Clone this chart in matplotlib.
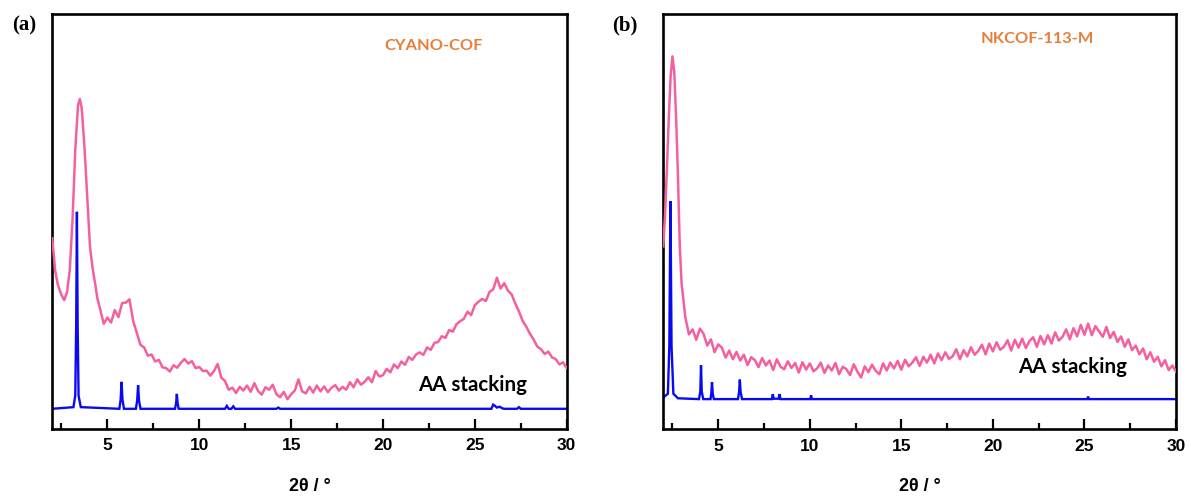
import numpy as np
import matplotlib
matplotlib.use("Agg")
import matplotlib.pyplot as plt

# ---------------- data (arbitrary intensity units, 0-100 axis) ----------------
# Panel (a) CYANO-COF experimental: low-angle peak region (explicit x)
exp_a_peak_x = [2.0, 2.15, 2.3, 2.5, 2.65, 2.8, 2.95, 3.1, 3.25, 3.4, 3.5, 3.6,
                3.75, 3.9, 4.05, 4.2, 4.35, 4.45]
exp_a_peak_y = [45.9, 38.3, 34.7, 32.2, 31.0, 32.9, 38.2, 50.3, 67.2, 78.0, 79.5, 77.3,
                68.0, 56.0, 44.0, 38.5, 34.5, 31.5]
# remaining pattern, read every 0.2 deg from 4.6 to 30.0
exp_a_tail_x = [round(v, 2) for v in np.arange(4.6, 30.001, 0.2)]
exp_a_tail_y = [28.9, 25.3,
                26.8, 25.6, 28.6, 26.9, 30.3,
                30.4, 31.2, 26.0, 23.1, 20.2,
                19.6, 17.6, 17.9, 16.2, 16.6,
                14.8, 14.6, 13.8, 15.3, 14.7,
                15.9, 16.8, 15.7, 16.3, 14.6,
                14.9, 13.9, 14.0, 12.8, 13.9,
                15.6, 12.3, 11.5, 9.4, 9.9,
                8.6, 10.1, 9.2, 10.4, 8.9,
                11.0, 9.1, 8.2, 10.0, 9.4,
                10.6, 8.3, 7.6, 8.9, 7.1,
                8.3, 9.2, 11.9, 9.0, 8.5,
                10.1, 8.7, 10.4, 9.0, 10.2,
                8.8, 9.9, 10.5, 9.2, 10.1,
                9.4, 11.2, 10.0, 11.9, 10.6,
                11.3, 12.4, 11.2, 13.9, 12.6,
                12.9, 14.4, 13.6, 15.5, 14.6,
                16.2, 15.4, 17.3, 16.6, 17.9,
                18.4, 17.8, 19.6, 19.0, 20.7,
                20.9, 22.3, 21.9, 23.8, 23.4,
                25.2, 25.9, 26.5, 28.2, 27.4,
                29.8, 30.6, 31.3, 30.8, 33.0,
                33.6, 36.4, 33.8, 35.1, 33.3,
                32.4, 30.2, 28.3, 26.0, 24.6,
                22.9, 21.5, 19.8, 19.2, 18.0,
                18.6, 17.2, 16.8, 15.5, 16.0,
                14.6]
exp_a_x = exp_a_peak_x + exp_a_tail_x
exp_a_y = exp_a_peak_y + exp_a_tail_y

# Panel (a) simulated AA stacking
sim_a_x = [2.0, 3.15, 3.25, 3.30, 3.34, 3.38, 3.43, 3.55, 5.65, 5.72, 5.77, 5.82, 5.9,
           6.55, 6.62, 6.67, 6.72, 6.8, 8.68, 8.74, 8.78, 8.82, 8.88, 11.4, 11.5, 11.6,
           11.75, 11.85, 11.95, 14.2, 14.3, 14.4, 25.9, 26.0, 26.1, 26.2, 26.35, 26.5,
           26.6, 27.3, 27.4, 27.5, 30.0]
sim_a_y = [4.8, 5.2, 8.0, 25.0, 52.3, 25.0, 8.0, 5.2, 4.8, 7.0, 11.3, 7.0, 4.8,
           4.8, 6.8, 10.5, 6.8, 4.8, 4.8, 6.2, 8.4, 6.2, 4.8, 4.8, 5.5, 4.8,
           4.8, 5.4, 4.8, 4.8, 5.1, 4.8, 4.8, 5.8, 5.5, 5.1, 5.3, 4.9,
           4.8, 4.8, 5.2, 4.8, 4.8]

# Panel (b) NKCOF-113-M experimental
exp_b_peak_x = [2.0, 2.1, 2.2, 2.3, 2.4, 2.5, 2.6, 2.7, 2.8, 2.9]
exp_b_peak_y = [44.0, 52.0, 63.0, 75.0, 85.0, 89.8, 86.0, 75.0, 61.0, 44.0]
exp_b_tail_x = [round(v, 2) for v in np.arange(3.0, 30.001, 0.2)]
exp_b_tail_y = [35.0, 27.0, 22.8, 24.0, 21.5,
                24.2, 22.9, 20.1, 21.6, 18.5,
                20.4, 19.6, 17.2, 18.9, 16.8,
                18.6, 16.5, 17.9, 15.4, 17.3,
                16.6, 14.9, 17.1, 15.3, 16.5,
                14.2, 16.8, 15.0, 14.4, 16.3,
                14.7, 15.9, 13.6, 16.1, 14.3,
                15.8, 13.9, 14.6, 16.0, 13.5,
                15.3, 14.1, 15.9, 13.2, 15.0,
                14.4, 13.0, 15.6, 13.8, 12.4,
                15.1, 13.7, 15.5, 14.0, 13.2,
                15.8, 14.1, 16.0, 14.6, 16.4,
                14.3, 16.7, 15.1, 16.0, 17.3,
                15.2, 17.4, 16.0, 17.9, 15.8,
                18.2, 16.6, 18.5, 16.9, 17.5,
                19.2, 16.8, 19.0, 17.5, 19.7,
                17.9, 18.8, 20.3, 18.0, 20.6,
                18.7, 20.9, 19.1, 19.8, 21.4,
                18.9, 21.5, 19.6, 21.8, 19.5,
                21.2, 22.1, 19.8, 22.4, 20.4,
                22.6, 20.6, 23.3, 21.3, 22.2,
                24.0, 21.6, 24.3, 22.3, 25.1,
                22.7, 25.4, 22.6, 24.8, 23.5,
                22.2, 24.6, 21.9, 23.4, 21.0,
                22.3, 19.8, 21.6, 19.0, 20.1,
                18.0, 19.4, 16.8, 18.5, 16.2,
                17.4, 15.1, 16.6, 14.2, 15.3,
                13.8]
exp_b_x = exp_b_peak_x + exp_b_tail_x
exp_b_y = exp_b_peak_y + exp_b_tail_y

# Panel (b) simulated AA stacking
sim_b_x = [2.0, 2.25, 2.33, 2.39, 2.45, 2.55, 2.8, 3.95, 4.02, 4.06, 4.1, 4.18,
           4.58, 4.62, 4.66, 4.70, 4.76, 6.08, 6.14, 6.18, 6.22, 6.3, 7.93, 7.98,
           8.03, 8.30, 8.35, 8.4, 10.02, 10.07, 10.12, 25.15, 25.2, 25.25, 30.0]
sim_b_y = [7.6, 8.5, 20.0, 54.9, 20.0, 8.5, 7.4, 7.2, 9.0, 15.3, 9.0, 7.2,
           7.2, 8.5, 11.3, 8.5, 7.2, 7.2, 9.0, 11.9, 9.0, 7.2, 7.2, 8.4,
           7.3, 7.3, 8.4, 7.2, 7.2, 8.1, 7.2, 7.2, 7.8, 7.2, 7.2]

xticks_major = [5, 10, 15, 20, 25, 30]
xticks_minor = [2.5, 7.5, 12.5, 17.5, 22.5, 27.5]
sample_names = ["CYANO-COF", "NKCOF-113-M"]
panel_tags = ["(a)", "(b)"]
sim_label = "AA stacking"
x_label = "2θ / °"

# ---------------- styling ----------------
PINK = "#F4609F"
BLUE = "#0A0AF0"
ORANGE = "#E57F3A"

W, H = 1191, 497
fig = plt.figure(figsize=(W / 100, H / 100), dpi=100)

boxes = [(52.3, 566.7, 14, 428.7), (663.3, 1176, 14, 429)]
name_pos = [(0.742, 0.924), (0.730, 0.939)]
sim_pos = [(0.818, 0.105), (0.798, 0.150)]
tag_pos = [(24, 25), (625, 25)]
series = [(exp_a_x, exp_a_y, sim_a_x, sim_a_y), (exp_b_x, exp_b_y, sim_b_x, sim_b_y)]

for i in range(2):
    l, r, t, b = boxes[i]
    ax = fig.add_axes([l / W, 1 - b / H, (r - l) / W, (b - t) / H])
    ex, ey, sx, sy = series[i]
    ax.plot(sx, sy, color=BLUE, lw=1.7, solid_joinstyle="miter", zorder=2)
    ax.plot(ex, ey, color=PINK, lw=1.8, zorder=3)
    ax.set_xlim(2, 30)
    ax.set_ylim(0, 100)
    ax.set_yticks([])
    ax.set_xticks(xticks_major)
    ax.set_xticks(xticks_minor, minor=True)
    ax.set_xticklabels([str(v) for v in xticks_major])
    for s in ax.spines.values():
        s.set_linewidth(1.9)
    ax.tick_params(axis="x", which="major", direction="in", length=7, width=1.6,
                   pad=7, labelsize=12.5)
    ax.tick_params(axis="x", which="minor", direction="in", length=4, width=1.6)
    for lab in ax.get_xticklabels():
        lab.set_fontfamily("Liberation Sans")
        lab.set_fontweight("bold")
    ax.set_xlabel(x_label, fontsize=13, fontweight="bold", family="Liberation Sans")
    ax.xaxis.set_label_coords(0.5, -(478 - b) / (b - t))
    ax.text(name_pos[i][0], name_pos[i][1], sample_names[i], transform=ax.transAxes,
            ha="center", va="center", color=ORANGE, fontsize=11.8, fontweight="bold",
            family="Lato")
    ax.text(sim_pos[i][0], sim_pos[i][1], sim_label, transform=ax.transAxes,
            ha="center", va="center", color="black", fontsize=14.8,
            fontweight="bold", family="Lato")
    fig.text(tag_pos[i][0] / W, 1 - tag_pos[i][1] / H, panel_tags[i], ha="center",
             va="center", fontsize=15, fontweight="bold", family="Liberation Serif")

fig.savefig("out.png", dpi=100)
